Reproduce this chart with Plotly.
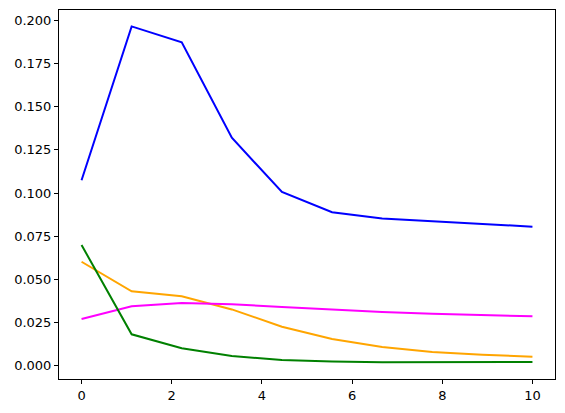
import plotly.graph_objects as go

x_vals = [0.0, 1.111, 2.222, 3.333, 4.444, 5.556, 6.667, 7.778, 8.889, 10.0]

blue_vals = [0.1074, 0.1965, 0.1873, 0.1320, 0.1006, 0.0889, 0.0853, 0.0838, 0.0822, 0.0805]
orange_vals = [0.0602, 0.0431, 0.0402, 0.0326, 0.0226, 0.0155, 0.0108, 0.0079, 0.0064, 0.0052]
magenta_vals = [0.0270, 0.0344, 0.0363, 0.0356, 0.0340, 0.0325, 0.0311, 0.0301, 0.0294, 0.0286]
green_vals = [0.0699, 0.0182, 0.0101, 0.0056, 0.0033, 0.0024, 0.0020, 0.0020, 0.0021, 0.0022]

y_ticks = [0.0, 0.025, 0.05, 0.075, 0.1, 0.125, 0.15, 0.175, 0.2]
x_ticks = [0, 2, 4, 6, 8, 10]

fig = go.Figure()

series = [
    (blue_vals, 'blue'),
    (orange_vals, 'orange'),
    (magenta_vals, 'magenta'),
    (green_vals, 'green'),
]
for vals, color in series:
    fig.add_trace(go.Scatter(
        x=x_vals,
        y=vals,
        mode='lines',
        line=dict(color=color, width=2),
        showlegend=False,
    ))

axis_style = dict(
    showgrid=False,
    zeroline=False,
    showline=True,
    linecolor='black',
    linewidth=1,
    mirror=True,
    ticks='outside',
    ticklen=4,
    tickwidth=1,
    tickcolor='black',
    automargin=False,
    tickfont=dict(family='DejaVu Sans', size=13, color='black'),
)

# page body has an 8px margin, so the figure is sized to the visible area
fig.update_layout(
    width=557,
    height=405,
    margin=dict(l=51, r=10, t=2, b=34, autoexpand=False),
    plot_bgcolor='white',
    paper_bgcolor='white',
    xaxis=dict(range=[-0.5, 10.5], tickvals=x_ticks, **axis_style),
    yaxis=dict(range=[-0.0077, 0.206], tickvals=y_ticks, tickformat='.3f', **axis_style),
)

fig.write_html("out.html")
